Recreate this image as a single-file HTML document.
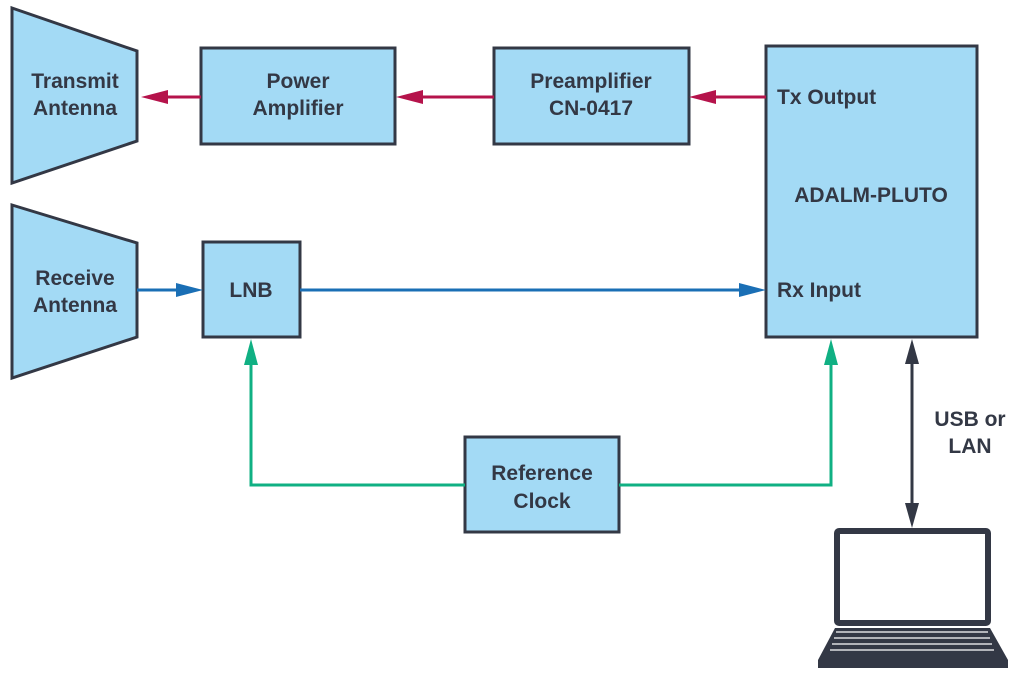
<!DOCTYPE html>
<html><head><style>html,body{margin:0;padding:0;background:#fff}svg{display:block}</style></head>
<body>
<svg width="1020" height="677" viewBox="0 0 1020 677" xmlns="http://www.w3.org/2000/svg" font-family="Liberation Sans, sans-serif" font-weight="bold" font-size="21" fill="#333845">
<g stroke="#333845" stroke-width="3" fill="#a3daf5">
<polygon points="12,8 137,51 137,141 12,183"/>
<polygon points="12,205 137,243 137,337 12,378"/>
<rect x="201" y="48" width="194" height="96"/>
<rect x="494" y="48" width="195" height="96"/>
<rect x="766" y="46" width="211" height="291"/>
<rect x="203" y="242" width="97" height="95"/>
<rect x="465" y="437" width="154" height="95"/>
</g>
<!-- red -->
<g stroke="#b5134b" stroke-width="3"><line x1="201" y1="97" x2="165" y2="97"/><line x1="494" y1="97" x2="420" y2="97"/><line x1="766" y1="97" x2="712" y2="97"/></g>
<g fill="#b5134b"><polygon points="141,97 168,90 168,104"/><polygon points="396,97 423,90 423,104"/><polygon points="689,97 716,90 716,104"/></g>
<!-- blue -->
<g stroke="#1a6fb5" stroke-width="3"><line x1="137" y1="290" x2="180" y2="290"/><line x1="300" y1="290" x2="742" y2="290"/></g>
<g fill="#1a6fb5"><polygon points="203,290 176,283 176,297"/><polygon points="766,290 739,283 739,297"/></g>
<!-- green -->
<polyline points="465,485 251,485 251,362" fill="none" stroke="#10b083" stroke-width="3"/>
<polyline points="619,485 831,485 831,362" fill="none" stroke="#10b083" stroke-width="3"/>
<g fill="#10b083"><polygon points="251,339 244,365 258,365"/><polygon points="831,339 824,365 838,365"/></g>
<!-- black -->
<line x1="912" y1="360" x2="912" y2="507" stroke="#333845" stroke-width="3"/>
<polygon points="912,339 905,364 919,364" fill="#333845"/>
<polygon points="912,528 905,503 919,503" fill="#333845"/>
<!-- laptop -->
<rect x="834" y="528" width="157" height="98" rx="5" fill="#333845"/>
<rect x="840" y="534" width="145" height="86" fill="#fff"/>
<polygon points="835,628 990,628 1008,660 1008,668 818,668 818,660" fill="#333845"/>
<g stroke="#fff" stroke-width="1.2" fill="none">
<line x1="836" y1="632" x2="988" y2="632"/><line x1="834" y1="638" x2="990" y2="638"/><line x1="832" y1="644" x2="992" y2="644"/><line x1="830" y1="650" x2="994" y2="650"/>
</g>
<!-- text -->
<g text-anchor="middle">
<text x="75" y="88">Transmit</text><text x="75" y="115">Antenna</text>
<text x="75" y="285">Receive</text><text x="75" y="312">Antenna</text>
<text x="298" y="88">Power</text><text x="298" y="115">Amplifier</text>
<text x="591" y="88">Preamplifier</text><text x="591" y="115">CN-0417</text>
<text x="871" y="202">ADALM-PLUTO</text>
<text x="251" y="297">LNB</text>
<text x="542" y="480">Reference</text><text x="542" y="508">Clock</text>
<text x="970" y="426">USB or</text><text x="970" y="453">LAN</text>
</g>
<text x="777" y="104">Tx Output</text>
<text x="777" y="297">Rx Input</text>
</svg>
</body></html>
